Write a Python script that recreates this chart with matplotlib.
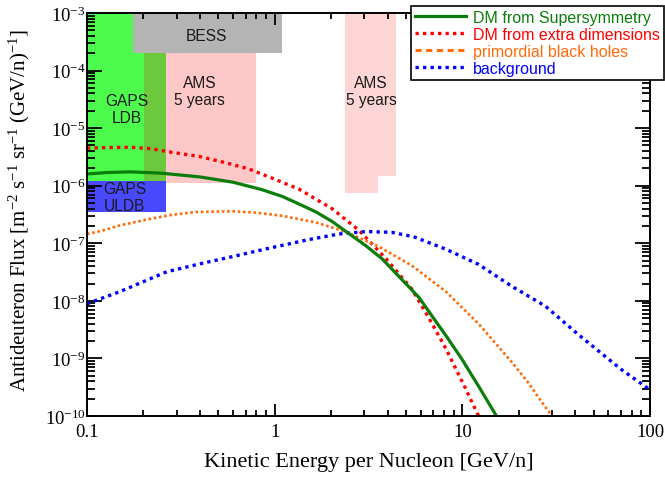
import matplotlib
matplotlib.use('Agg')
import matplotlib.pyplot as plt
from matplotlib.patches import Rectangle
from matplotlib.lines import Line2D
from matplotlib.ticker import FixedLocator, FixedFormatter, LogLocator, NullFormatter

plt.rcParams['mathtext.fontset'] = 'custom'
plt.rcParams['mathtext.rm'] = 'Liberation Serif'
plt.rcParams['mathtext.it'] = 'Liberation Serif:italic'
plt.rcParams['font.family'] = ['Liberation Serif', 'DejaVu Serif']

# ---------------- data ----------------
susy_x = [0.1, 0.13, 0.17, 0.25, 0.4, 0.6, 0.85, 1.1, 1.35, 1.66, 2.02, 2.4, 3.07,
          3.73, 4.57, 5.87, 6.88, 8.17, 9.93, 12.2, 15.2]
susy_y = [1.6e-6, 1.7e-6, 1.74e-6, 1.65e-6, 1.42e-6, 1.15e-6, 8.6e-7, 6.5e-7, 4.8e-7,
          3.5e-7, 2.4e-7, 1.6e-7, 9e-8, 5.4e-8, 2.7e-8, 1.15e-8, 5.5e-9, 2.5e-9,
          9.8e-10, 3.3e-10, 1e-10]

xdim_x = [0.1, 0.13, 0.17, 0.22, 0.27, 0.4, 0.55, 0.73, 1.0, 1.35, 2.02, 2.82, 3.92,
          5.38, 6.6, 8.17, 10.4, 12.2]
xdim_y = [4.5e-6, 4.6e-6, 4.65e-6, 4.4e-6, 3.9e-6, 3.2e-6, 2.5e-6, 1.95e-6, 1.3e-6,
          8.7e-7, 4.0e-7, 1.67e-7, 5.4e-8, 1.6e-8, 5.2e-9, 1.48e-9, 3.0e-10, 1e-10]

pbh_x = [0.1, 0.12, 0.15, 0.21, 0.28, 0.38, 0.6, 0.8, 1.1, 1.66, 2.4, 3.6, 5.38, 8.17,
         12.2, 18.3, 22.3, 27.0, 30.0]
pbh_y = [1.45e-7, 1.65e-7, 2.05e-7, 2.6e-7, 3.1e-7, 3.5e-7, 3.6e-7, 3.4e-7, 3.0e-7,
         2.3e-7, 1.58e-7, 8.7e-8, 4.1e-8, 1.45e-8, 4.0e-9, 8.7e-10, 3.9e-10, 1.6e-10, 1e-10]

bg_x = [0.1, 0.15, 0.266, 0.4, 0.6, 0.9, 1.5, 2.2, 3.07, 4.2, 5.5, 8.17, 12.2, 18.3,
        27.7, 41.5, 70.0, 100.0]
bg_y = [8.9e-9, 1.45e-8, 3.2e-8, 4.4e-8, 5.9e-8, 8e-8, 1.15e-7, 1.45e-7, 1.6e-7,
        1.55e-7, 1.3e-7, 7.9e-8, 4.3e-8, 1.8e-8, 8.1e-9, 2.6e-9, 6.5e-10, 2.85e-10]

# sensitivity regions: (x0, x1, y0, y1)
gaps_ldb = (0.1, 0.263, 1.2e-6, 1e-3)
ams_left = (0.201, 0.80, 1.1e-6, 2.0e-4)
ams_overlap = (0.201, 0.263, 1.2e-6, 2.0e-4)
bess = (0.175, 1.09, 2.0e-4, 1e-3)
gaps_uldb = (0.1, 0.263, 3.5e-7, 1.2e-6)
ams_right_a = (2.37, 3.55, 7.5e-7, 1e-3)
ams_right_b = (3.55, 4.43, 1.48e-6, 1e-3)

legend_labels = ['DM from Supersymmetry', 'DM from extra dimensions',
                 'primordial black holes', 'background']
x_ticks = [0.1, 1, 10, 100]
x_tick_labels = ['0.1', '1', '10', '100']
y_ticks = [1e-10, 1e-9, 1e-8, 1e-7, 1e-6, 1e-5, 1e-4, 1e-3]
y_tick_labels = [r'$\mathregular{10^{-10}}$', r'$\mathregular{10^{-9}}$',
                 r'$\mathregular{10^{-8}}$', r'$\mathregular{10^{-7}}$',
                 r'$\mathregular{10^{-6}}$', r'$\mathregular{10^{-5}}$',
                 r'$\mathregular{10^{-4}}$', r'$\mathregular{10^{-3}}$']

# ---------------- figure ----------------
fig = plt.figure(figsize=(6.65, 4.81), dpi=100)
ax = fig.add_axes([87 / 665, 1 - 417 / 481, (650 - 87) / 665, (417 - 14) / 481])
ax.set_xscale('log')
ax.set_yscale('log')
ax.set_xlim(0.1, 100)
ax.set_ylim(1e-10, 1e-3)


def rect(r, color, z):
    x0, x1, y0, y1 = r
    ax.add_patch(Rectangle((x0, y0), x1 - x0, y1 - y0, facecolor=color,
                           edgecolor='none', zorder=z))


rect(gaps_ldb, '#4dfb4d', 1)
rect(ams_left, '#ffc8c8', 1.1)
rect(ams_overlap, '#6cc83c', 1.2)
rect(bess, '#b4b4b4', 1.3)
rect(gaps_uldb, '#4848fc', 1.4)
rect(ams_right_a, '#ffd6d6', 1)
rect(ams_right_b, '#ffd6d6', 1)

sans = {'family': 'Liberation Sans', 'size': 11.2, 'color': '#1a1a1a'}
ax.text(0.434, 4.0e-4, 'BESS', ha='center', va='center', fontdict=sans, zorder=3)
ax.text(0.163, 2.15e-5, 'GAPS\nLDB', ha='center', va='center', fontdict=sans,
        linespacing=1.2, zorder=3)
ax.text(0.398, 4.4e-5, 'AMS\n5 years', ha='center', va='center', fontdict=sans,
        linespacing=1.2, zorder=3)
ax.text(3.26, 4.4e-5, 'AMS\n5 years', ha='center', va='center', fontdict=sans,
        linespacing=1.2, zorder=3)
ax.text(0.159, 6.4e-7, 'GAPS\nULDB', ha='center', va='center', fontdict=sans,
        linespacing=1.2, zorder=3)

c_green, c_red, c_orange, c_blue = '#0b7d0b', '#ff0000', '#ff6a0a', '#0000ff'
ax.plot(susy_x, susy_y, color=c_green, lw=2.3, zorder=5, solid_capstyle='butt')
ax.plot(xdim_x, xdim_y, color=c_red, lw=2.4, dashes=(1, 1.25), zorder=4,
        dash_capstyle='butt')
ax.plot(pbh_x, pbh_y, color=c_orange, lw=1.9, dashes=(1, 1.0), zorder=4,
        dash_capstyle='butt')
ax.plot(bg_x, bg_y, color=c_blue, lw=2.4, dashes=(1, 1.25), zorder=4,
        dash_capstyle='butt')

# ticks
ax.xaxis.set_major_locator(FixedLocator(x_ticks))
ax.xaxis.set_major_formatter(FixedFormatter(x_tick_labels))
ax.xaxis.set_minor_locator(LogLocator(base=10, subs=range(2, 10)))
ax.xaxis.set_minor_formatter(NullFormatter())
ax.yaxis.set_major_locator(FixedLocator(y_ticks))
ax.yaxis.set_major_formatter(FixedFormatter(y_tick_labels))
ax.yaxis.set_minor_locator(LogLocator(base=10, subs=range(2, 10)))
ax.yaxis.set_minor_formatter(NullFormatter())

ax.tick_params(which='both', direction='in', top=True, right=True, color='black',
               width=1.3, labelsize=13.5, zorder=6)
ax.tick_params(axis='x', which='major', length=8.5, pad=5)
ax.tick_params(axis='x', which='minor', length=4)
ax.tick_params(axis='y', which='major', length=10.5, pad=1)
ax.tick_params(axis='y', which='minor', length=5.5)
for s in ax.spines.values():
    s.set_linewidth(1.4)
    s.set_zorder(7)

ax.set_xlabel('Kinetic Energy per Nucleon [GeV/n]', fontsize=16)
ax.xaxis.set_label_coords(0.5, -0.09)
ax.set_ylabel(r'Antideuteron Flux [m$^{-2}$ s$^{-1}$ sr$^{-1}$ (GeV/n)$^{-1}$]',
              fontsize=15)
ax.yaxis.set_label_coords(-0.098, 0.511)

handles = [Line2D([], [], color=c_green, lw=2.3),
           Line2D([], [], color=c_red, lw=2.4, dashes=(1, 1.25)),
           Line2D([], [], color=c_orange, lw=2.2, dashes=(2, 1.5)),
           Line2D([], [], color=c_blue, lw=2.4, dashes=(1, 1.25))]
leg = fig.legend(handles, legend_labels, loc='upper right',
                 bbox_to_anchor=(664 / 665, 1 - 7 / 481),
                 bbox_transform=fig.transFigure,
                 prop={'family': 'Liberation Sans', 'size': 11.5},
                 frameon=True, fancybox=False, framealpha=1, edgecolor='black',
                 borderpad=0.25, handlelength=3.2, handletextpad=0.45,
                 labelspacing=0.12, borderaxespad=0)
leg.get_frame().set_linewidth(1.2)
for t, c in zip(leg.get_texts(), [c_green, c_red, c_orange, c_blue]):
    t.set_color(c)

fig.savefig('out.png', dpi=100)
